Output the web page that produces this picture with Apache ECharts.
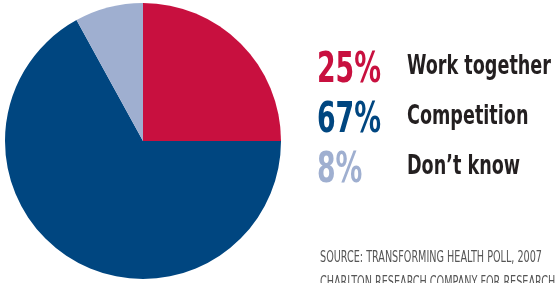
<!DOCTYPE html>
<html>
<head>
<meta charset="utf-8">
<script src="https://cdn.jsdelivr.net/npm/echarts@6/dist/echarts.min.js"></script>
<style>
  html, body { margin: 0; padding: 0; background: #fff; }
  #chart { width: 555px; height: 283px; }
</style>
</head>
<body>
<div id="chart"></div>
<script>
// 数据
var categories = ["Work together", "Competition", "Don\u2019t know"];
var values = [25, 67, 8];
var colors = ["#C8103F", "#004680", "#9FAFD0"];
var sourceLines = [
  "SOURCE: TRANSFORMING HEALTH POLL, 2007",
  "CHARLTON RESEARCH COMPANY FOR RESEARCH"
];

var narrow = "'DejaVu Sans Condensed', 'DejaVu Sans', sans-serif";
var pctFont = "bold 42px " + narrow;
var labelFont = "bold 26px " + narrow;
var srcFont = "15px " + narrow;

// 没有窄字体, 用 scaleX 压窄
var ctx = document.createElement("canvas").getContext("2d");
function fitScale(text, font, width) {
  ctx.font = font;
  return width / ctx.measureText(text).width;
}
var pctScale = fitScale("25%", pctFont, 64);
var labelScale = fitScale("Work together", labelFont, 144);
var srcScale = fitScale(sourceLines[0], srcFont, 222);

var chart = echarts.init(document.getElementById("chart"));

// 右边的图例文字
var texts = [];
categories.forEach(function (name, i) {
  texts.push({
    type: "text",
    x: 317,
    y: 50 + i * 50,
    scaleX: pctScale,
    style: {
      text: values[i] + "%",
      font: pctFont,
      fill: colors[i],
      verticalAlign: "top"
    }
  });
  texts.push({
    type: "text",
    x: 407,
    y: 54 + i * 50,
    scaleX: labelScale,
    style: {
      text: name,
      font: labelFont,
      fill: "#231f20",
      verticalAlign: "top"
    }
  });
});
sourceLines.forEach(function (line, i) {
  texts.push({
    type: "text",
    x: 320,
    y: 251 + i * 25,
    scaleX: srcScale,
    style: {
      text: line,
      font: srcFont,
      fill: "#555",
      verticalAlign: "top"
    }
  });
});

var option = {
  animation: false,
  series: [
    {
      type: "pie",
      center: [143, 141],
      radius: 138,
      startAngle: 90,
      clockwise: true,
      silent: true,
      label: { show: false },
      labelLine: { show: false },
      itemStyle: { borderWidth: 0 },
      data: categories.map(function (name, i) {
        return { name: name, value: values[i], itemStyle: { color: colors[i] } };
      })
    }
  ],
  graphic: texts
};

option && chart.setOption(option);
</script>
</body>
</html>
